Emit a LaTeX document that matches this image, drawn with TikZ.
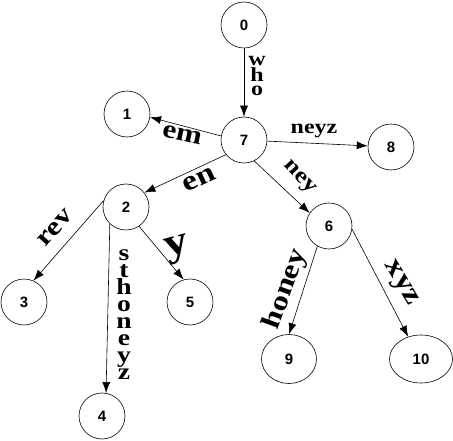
\documentclass[tikz,border=0pt]{standalone}
\usepackage{fontspec}
\setmainfont{Liberation Serif}
\newfontfamily\numfont{Liberation Sans}
\newfontfamily\lblfont[FakeStretch=1.2]{Liberation Serif}
\usetikzlibrary{shapes.geometric, arrows.meta}

\begin{document}
\begin{tikzpicture}[x=1pt, y=-1pt,
    state/.style={ellipse, draw, line width=0.6pt, minimum width=46pt, minimum height=46pt, inner sep=0pt, font=\numfont\bfseries\fontsize{15pt}{15pt}\selectfont},
    arrow/.style={-{Latex[length=11pt, width=8pt]}, line width=0.6pt},
    lbl/.style={inner sep=0pt, font=\lblfont\bfseries\fontsize{#1}{#1}\selectfont},
    stack/.style={inner sep=0pt, align=center}]
    \useasboundingbox (0,0) rectangle (453,441);

    % Nodes
    \node [state] (n0) at (244,25) {0};
    \node [state] (n7) at (244,140) {7};
    \node [state] (n1) at (127,114) {1};
    \node [state] (n8) at (391,147) {8};
    \node [state] (n2) at (126,207) {2};
    \node [state] (n6) at (329,226) {6};
    \node [state] (n3) at (24,302) {3};
    \node [state] (n5) at (190,302) {5};
    \node [state] (n4) at (102,416) {4};
    \node [state, minimum width=55pt, minimum height=49pt] (n9) at (289,359) {9};
    \node [state, minimum width=63pt, minimum height=48pt] (n10) at (421,359) {10};

    % Arrows
    \draw [arrow] (n0) -- (n7);
    \draw [arrow] (n7.170) -- (n1.-8);
    \draw [arrow] (n7) -- (n8);
    \draw [arrow] (n7.219) -- (n2.38);
    \draw [arrow] (n7.-64) -- (n6.146);
    \draw [arrow] (n2.164) -- (n3.66);
    \draw [arrow] (n2.226) -- (n4.80);
    \draw [arrow] (n2.-56) -- (n5.106);
    \draw [arrow] (n6.240) -- (n9.north);
    \draw [arrow] (n6.-8) -- (n10.120);

    % Edge labels
    \node [stack, font=\lblfont\bfseries\fontsize{20pt}{14pt}\selectfont] (who) at (257,76) {w\\h\\o};
    \node [lbl=26pt, rotate=-12] (em) at (182,135) {em};
    \node [lbl=20pt] (neyz) at (314,131) {neyz};
    \node [lbl=28pt, rotate=25] (en) at (199,180) {en};
    \node [lbl=22pt, rotate=-47] (ney) at (299,178) {ney};
    \node [lbl=26pt, rotate=48] (rev) at (55,228) {rev};
    \node [lbl=40pt, rotate=15] (y) at (178,250) {y};
    \node [stack, font=\lblfont\bfseries\fontsize{23pt}{17pt}\selectfont] (sthoneyz) at (124,315) {s\\t\\h\\o\\n\\e\\y\\z};
    \node [lbl=27pt, rotate=70] (honey) at (286,289) {honey};
    \node [lbl=28pt, rotate=-59] (xyz) at (400,284) {xyz};

\end{tikzpicture}
\end{document}
